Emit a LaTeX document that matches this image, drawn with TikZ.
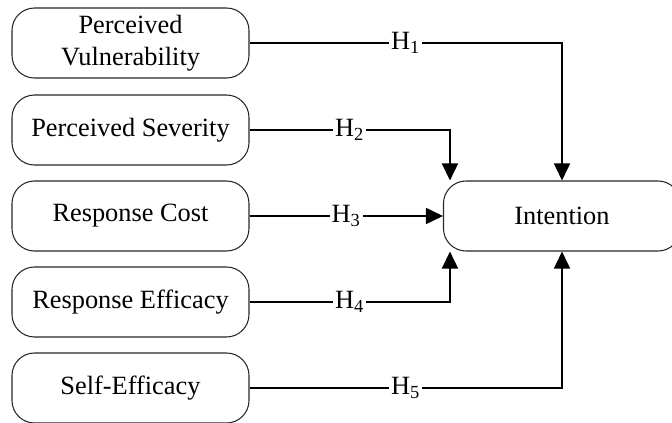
\documentclass[tikz,border=0pt]{standalone}
\usepackage{fontspec}
\setmainfont{Liberation Serif}
\usetikzlibrary{arrows.meta}

\begin{document}
\begin{tikzpicture}[x=1cm,y=1cm,
  factor/.style={draw=black!85, line width=0.6pt, rounded corners=0.45cm, align=center,
    minimum width=4.74cm, minimum height=1.4cm, font=\fontsize{15}{18.5}\selectfont},
  link/.style={line width=1pt, -{Triangle[length=0.34cm,width=0.32cm]}},
  hyp/.style={fill=white, inner sep=1pt, font=\fontsize{15}{18.5}\selectfont}]
\useasboundingbox (0,0) rectangle (13.44,-8.46);
\clip (0,0) rectangle (13.44,-8.46);
\node[factor] (vul) at (2.61,-0.86) {Perceived\\ Vulnerability};
\node[factor] (sev) at (2.61,-2.6) {Perceived Severity};
\node[factor] (cost) at (2.61,-4.32) {Response Cost};
\node[factor] (eff) at (2.61,-6.04) {Response Efficacy};
\node[factor] (self) at (2.61,-7.76) {Self-Efficacy};
\node[factor] (int) at (11.24,-4.32) {Intention};
\draw[link] (vul.east) -| node[hyp, pos=0.25] {H\textsubscript{1}} (int.north);
\draw[link] (sev.east) -| node[hyp, pos=0.25] {H\textsubscript{2}} ([xshift=0.14cm]int.north west);
\draw[link] (cost.east) -- node[hyp] {H\textsubscript{3}} (int.west);
\draw[link] (eff.east) -| node[hyp, pos=0.25] {H\textsubscript{4}} ([xshift=0.14cm]int.south west);
\draw[link] (self.east) -| node[hyp, pos=0.25] {H\textsubscript{5}} (int.south);
\end{tikzpicture}
\end{document}
